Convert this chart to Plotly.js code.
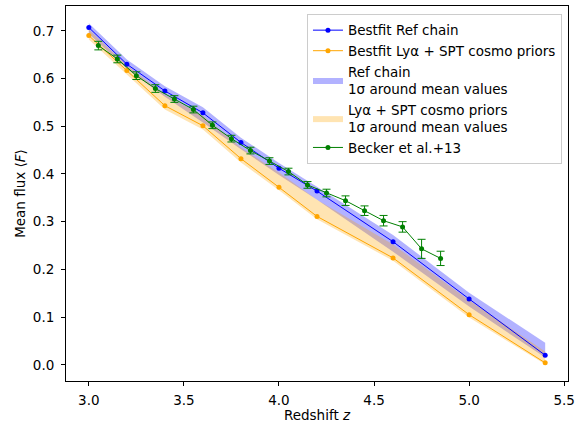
<!DOCTYPE html>
<html>
<head>
<meta charset="utf-8">
<script src="https://cdn.plot.ly/plotly-3.0.1.min.js"></script>
<style>html,body{margin:0;padding:0;background:#fff;}#chart{width:582px;height:423px;}</style>
</head>
<body>
<div id="chart"></div>
<script>
// Model redshift grid
var zModel = [3.0, 3.2, 3.4, 3.6, 3.8, 4.0, 4.2, 4.6, 5.0, 5.4];
// Bestfit Ref chain
var refBest = [0.707, 0.630, 0.574, 0.528, 0.466, 0.412, 0.364, 0.258, 0.138, 0.020];
var refHi   = [0.716, 0.640, 0.584, 0.540, 0.476, 0.423, 0.373, 0.272, 0.151, 0.046];
var refLo   = [0.694, 0.620, 0.562, 0.508, 0.452, 0.398, 0.346, 0.237, 0.122, 0.015];
// Bestfit Lya + SPT cosmo priors
var sptBest = [0.690, 0.617, 0.543, 0.501, 0.432, 0.372, 0.311, 0.224, 0.105, 0.004];
var sptHi   = [0.703, 0.628, 0.566, 0.522, 0.455, 0.403, 0.346, 0.252, 0.135, 0.028];
var sptLo   = [0.682, 0.608, 0.535, 0.493, 0.424, 0.366, 0.305, 0.218, 0.099, 0.001];
// Becker et al. 2013
var zBecker = [3.05, 3.15, 3.25, 3.35, 3.45, 3.55, 3.65, 3.75, 3.85, 3.95, 4.05, 4.15, 4.25, 4.35, 4.45, 4.55, 4.65, 4.75, 4.85];
var fBecker = [0.669, 0.641, 0.606, 0.579, 0.557, 0.535, 0.502, 0.474, 0.449, 0.427, 0.405, 0.377, 0.360, 0.344, 0.323, 0.302, 0.289, 0.243, 0.223];
var eBecker = [0.009, 0.008, 0.008, 0.008, 0.007, 0.007, 0.007, 0.007, 0.007, 0.007, 0.007, 0.007, 0.008, 0.010, 0.010, 0.011, 0.011, 0.020, 0.015];

var traces = [
  {x: zModel, y: refLo, mode: 'lines', line: {width: 0, color: 'rgba(0,0,255,0)'}, showlegend: false, hoverinfo: 'skip'},
  {x: zModel, y: refHi, mode: 'lines', fill: 'tonexty', fillcolor: 'rgba(0,0,255,0.3)', line: {width: 0, color: 'rgba(0,0,255,0)'},
   name: 'Ref chain<br>1σ around mean values', legendrank: 3},
  {x: zModel, y: sptLo, mode: 'lines', line: {width: 0, color: 'rgba(255,165,0,0)'}, showlegend: false, hoverinfo: 'skip'},
  {x: zModel, y: sptHi, mode: 'lines', fill: 'tonexty', fillcolor: 'rgba(255,165,0,0.3)', line: {width: 0, color: 'rgba(255,165,0,0)'},
   name: 'Lyα + SPT cosmo priors<br>1σ around mean values', legendrank: 4},
  {x: zModel, y: refBest, mode: 'lines+markers', line: {color: '#0000ff', width: 1}, marker: {color: '#0000ff', size: 5},
   name: 'Bestfit Ref chain', legendrank: 1},
  {x: zModel, y: sptBest, mode: 'lines+markers', line: {color: '#ffa500', width: 1}, marker: {color: '#ffa500', size: 5},
   name: 'Bestfit Lyα + SPT cosmo priors', legendrank: 2},
  {x: zBecker, y: fBecker, mode: 'lines+markers', line: {color: '#008000', width: 1}, marker: {color: '#008000', size: 5},
   error_y: {type: 'data', array: eBecker, visible: true, color: '#008000', thickness: 1, width: 4},
   name: 'Becker et al.+13', legendrank: 5}
];

var fam = 'DejaVu Sans, sans-serif';
var fs = 13.5;
var layout = {
  width: 582, height: 423,
  margin: {l: 66, r: 14, t: 6, b: 42},
  paper_bgcolor: '#fff', plot_bgcolor: '#fff',
  font: {family: fam, size: fs, color: '#000'},
  showlegend: true,
  legend: {x: 0.988, y: 0.979, xanchor: 'right', yanchor: 'top', traceorder: 'normal',
           bgcolor: 'rgba(255,255,255,0.8)', bordercolor: '#cccccc', borderwidth: 1,
           font: {family: fam, size: fs}, tracegroupgap: 0, itemwidth: 30},
  xaxis: {range: [2.88, 5.52], dtick: 0.5, tick0: 0, tickformat: '.1f', showgrid: false, zeroline: false,
          showline: true, linecolor: '#000', linewidth: 1, mirror: true, ticks: 'outside', ticklen: 4, tickcolor: '#000',
          tickfont: {size: fs}, ticklabelstandoff: 3,
          title: {text: 'Redshift <i>z</i>', font: {size: fs}, standoff: 2}},
  yaxis: {range: [-0.034, 0.752], dtick: 0.1, tick0: 0, tickformat: '.1f', showgrid: false, zeroline: false,
          showline: true, linecolor: '#000', linewidth: 1, mirror: true, ticks: 'outside', ticklen: 4, tickcolor: '#000',
          tickfont: {size: fs}, ticklabelstandoff: 4,
          title: {text: 'Mean flux ⟨<i>F</i>⟩', font: {size: fs}, standoff: 4}}
};

Plotly.newPlot('chart', traces, layout, {displayModeBar: false, staticPlot: true});
</script>
</body>
</html>
